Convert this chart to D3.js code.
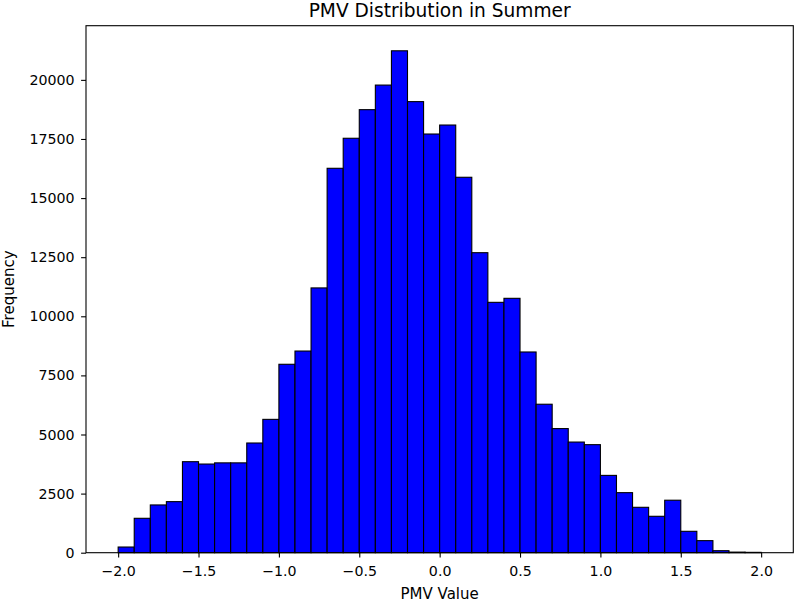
<!DOCTYPE html>
<html>
<head>
<meta charset="utf-8">
<script src="https://cdn.jsdelivr.net/npm/d3@7"></script>
<style>
html,body{margin:0;padding:0;background:#fff;}
svg{display:block;}
text{font-family:"DejaVu Sans",sans-serif;fill:#000;}
</style>
</head>
<body>
<svg id="chart" width="800" height="602"></svg>
<script>
// Histogram bin edges (PMV value)
const binEdges = [-2.0,-1.9,-1.8,-1.7,-1.6,-1.5,-1.4,-1.3,-1.2,-1.1,-1.0,-0.9,-0.8,-0.7,-0.6,-0.5,-0.4,-0.3,-0.2,-0.1,0.0,
                  0.1,0.2,0.3,0.4,0.5,0.6,0.7,0.8,0.9,1.0,1.1,1.2,1.3,1.4,1.5,1.6,1.7,1.8,1.9,2.0];
// Frequency per bin
const counts = [240,1455,2020,2160,3850,3750,3800,3800,4640,5640,
                7970,8530,11200,16260,17530,18740,19780,21230,19080,17710,
                18090,15880,12690,10590,10760,8490,6280,5250,4680,4570,
                3270,2540,1920,1540,2220,905,510,85,25,15];
const xTicks = [-2.0,-1.5,-1.0,-0.5,0.0,0.5,1.0,1.5,2.0];
const yTicks = [0,2500,5000,7500,10000,12500,15000,17500,20000];
const titleText = "PMV Distribution in Summer";
const xLabel = "PMV Value";
const yLabel = "Frequency";

const svg = d3.select("#chart");
const L = 86, R = 793.3, T = 25.7, B = 552.7;

const xmin = binEdges[0], xmax = binEdges[binEdges.length-1];
const pad = (xmax - xmin) * 0.05;
const x = d3.scaleLinear().domain([xmin - pad, xmax + pad]).range([L, R]);
const y = d3.scaleLinear().domain([0, d3.max(counts) * 1.05]).range([B, T]);

const bins = counts.map((c, i) => ({x0: binEdges[i], x1: binEdges[i+1], c}));

svg.append("g").selectAll("rect").data(bins).join("rect")
  .attr("x", d => x(d.x0))
  .attr("width", d => x(d.x1) - x(d.x0))
  .attr("y", d => y(d.c))
  .attr("height", d => y(0) - y(d.c))
  .attr("fill", "#0000ff")
  .attr("stroke", "#000")
  .attr("stroke-width", 1.1);

const fmtX = d3.format(".1f");
const xAxis = d3.axisBottom(x).tickValues(xTicks).tickFormat(fmtX).tickSize(4.9).tickPadding(8.5);
const yAxis = d3.axisLeft(y).tickValues(yTicks).tickFormat(d3.format("d")).tickSize(4.9).tickPadding(6.5);

const gx = svg.append("g").attr("transform", `translate(0,${B})`).call(xAxis);
const gy = svg.append("g").attr("transform", `translate(${L},0)`).call(yAxis);
[gx, gy].forEach(g => {
  g.select(".domain").remove();
  g.selectAll(".tick line").attr("stroke", "#000").attr("stroke-width", 1.1);
  g.selectAll(".tick text").style("font-family", "DejaVu Sans").style("font-size", "14.2px").attr("fill", "#000");
});

// Spines
svg.append("rect").attr("x", L).attr("y", T).attr("width", R - L).attr("height", B - T)
  .attr("fill", "none").attr("stroke", "#000").attr("stroke-width", 1.1);

svg.append("text").attr("x", (L + R) / 2).attr("y", 17.3).attr("text-anchor", "middle")
  .style("font-size", "18.6px").text(titleText);
svg.append("text").attr("x", (L + R) / 2).attr("y", 599).attr("text-anchor", "middle")
  .style("font-size", "15px").text(xLabel);
svg.append("text").attr("transform", `translate(14,${(T + B) / 2}) rotate(-90)`).attr("text-anchor", "middle")
  .style("font-size", "15px").text(yLabel);
</script>
</body>
</html>
